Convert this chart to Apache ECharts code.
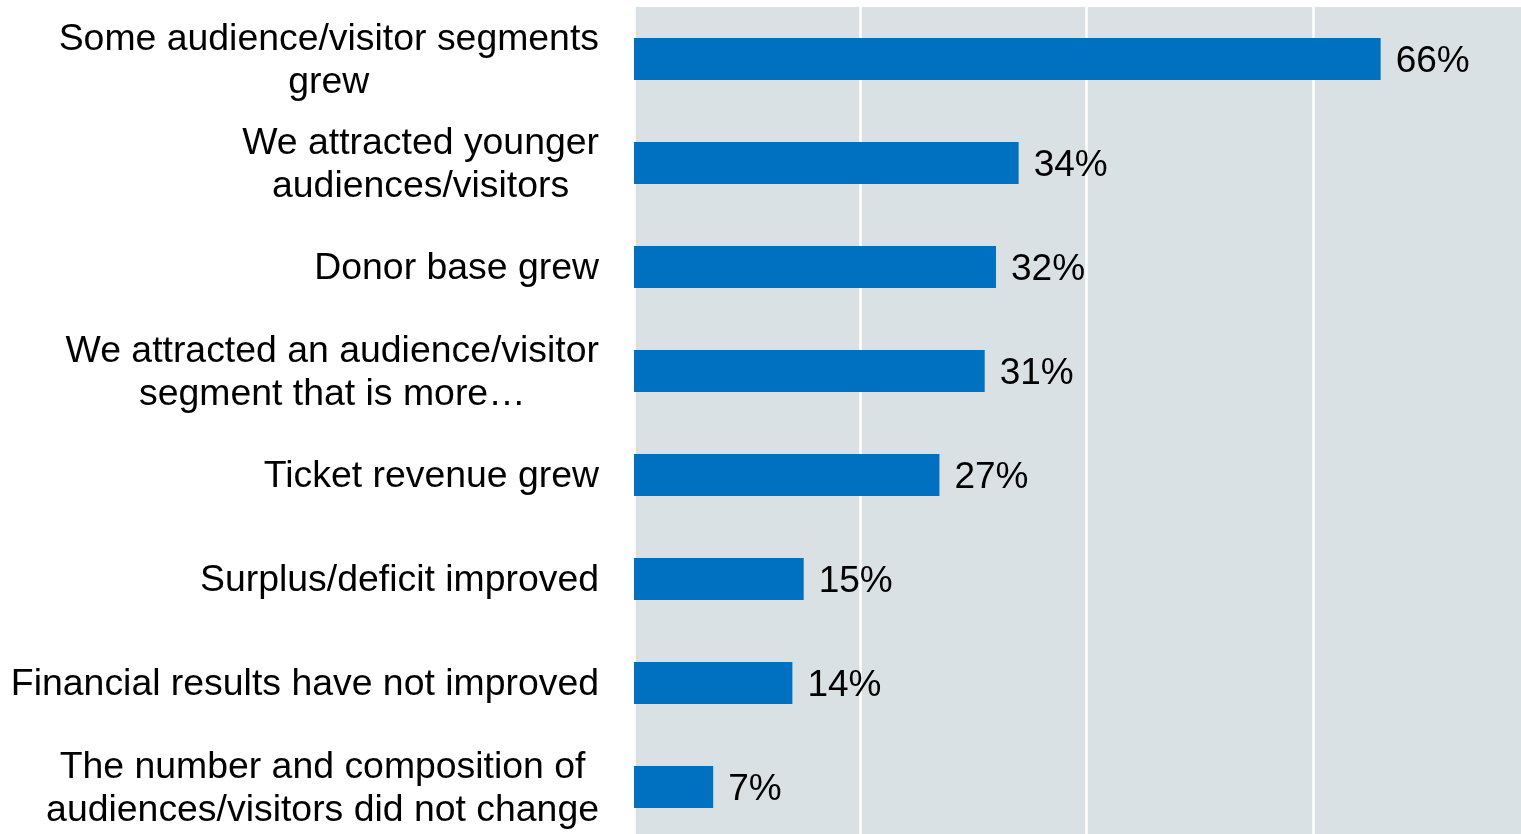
<!DOCTYPE html>
<html>
<head>
<meta charset="utf-8">
<script src="https://cdn.jsdelivr.net/npm/echarts@6/dist/echarts.min.js"></script>
<style>
  html, body { margin: 0; padding: 0; background: #ffffff; }
  #chart { width: 1521px; height: 834px; }
</style>
</head>
<body>
<div id="chart"></div>
<script>
// Survey outcomes, share of respondents (%)
const categories = [
  'Some audience/visitor segments\ngrew',
  'We attracted younger\naudiences/visitors',
  'Donor base grew',
  'We attracted an audience/visitor\nsegment that is more…',
  'Ticket revenue grew',
  'Surplus/deficit improved',
  'Financial results have not improved',
  'The number and composition of\naudiences/visitors did not change'
];
const values = [66, 34, 32, 31, 27, 15, 14, 7];

const FONT = '"Liberation Sans", Arial, sans-serif';

const chart = echarts.init(document.getElementById('chart'), null, { renderer: 'canvas' });

chart.setOption({
  animation: false,
  backgroundColor: '#ffffff',
  grid: {
    left: 634,
    top: 7,
    width: 905,
    height: 832,
    containLabel: false,
    outerBoundsMode: 'none',
    show: true,
    backgroundColor: '#dae1e4',
    borderWidth: 0
  },
  xAxis: {
    type: 'value',
    min: 0,
    max: 80,
    interval: 20,
    axisLine: { show: false },
    axisTick: { show: false },
    axisLabel: { show: false },
    splitLine: { show: true, lineStyle: { color: '#ffffff', width: 2.5 } }
  },
  yAxis: {
    type: 'category',
    inverse: true,
    data: categories,
    axisLine: { show: false },
    axisTick: { show: false },
    splitLine: { show: false },
    axisLabel: {
      interval: 0,
      margin: 35,
      align: 'right',
      padding: [4, 0, 0, 0],
      fontFamily: FONT,
      fontSize: 37.4,
      color: '#000000',
      lineHeight: 43,
      formatter: function (v) {
        return v.split('\n').map(function (l) { return '{c|' + l + '}'; }).join('\n');
      },
      rich: {
        c: {
          align: 'center',
          fontFamily: FONT,
          fontSize: 37.4,
          color: '#000000',
          lineHeight: 43
        }
      }
    }
  },
  series: [{
    type: 'bar',
    data: values,
    barWidth: 42,
    itemStyle: { color: '#0070c0' },
    label: {
      show: true,
      position: 'right',
      distance: 15,
      offset: [0, 3],
      fontFamily: FONT,
      fontSize: 37,
      color: '#000000',
      formatter: '{c}%'
    }
  }]
});
</script>
</body>
</html>
